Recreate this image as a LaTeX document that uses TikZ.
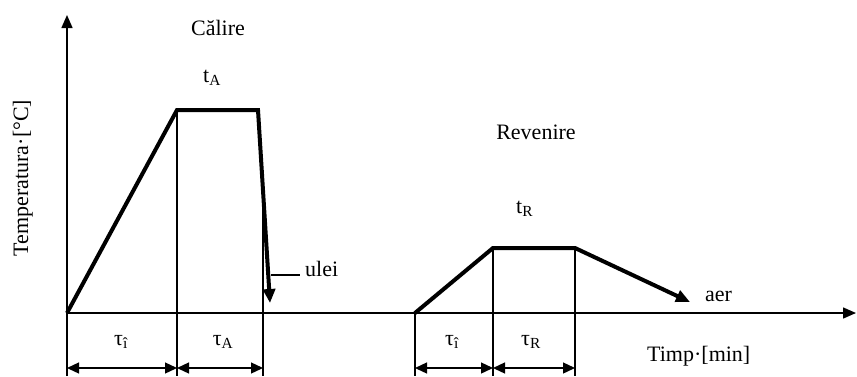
\documentclass[tikz,border=0pt]{standalone}
\usepackage{fontspec}
\setmainfont{Liberation Serif}
\usetikzlibrary{arrows.meta}

\tikzset{
  curba/.style={line width=4pt,line join=miter,-{Triangle[length=14pt,width=12pt]}},
  axa/.style={line width=1.5pt,-{Triangle[length=13pt,width=11pt]}},
  subtire/.style={line width=1.2pt},
  cota/.style={line width=1.3pt,{Triangle[length=12pt,width=11pt]}-{Triangle[length=12pt,width=11pt]}},
  eticheta/.style={inner sep=0pt,font=\fontsize{22}{26}\selectfont},
}

\begin{document}
\begin{tikzpicture}[x=1pt,y=-1pt,line cap=butt]
	\useasboundingbox (0,0) rectangle (857,376);
	% Axe
	\coordinate (O) at (67,313);
	\coordinate (Oj) at (67,376);
	\coordinate (Y) at (67,15);
	\coordinate (X) at (856,313);
	\draw[axa](Oj)--(O)--(Y);
	\draw[axa](O)--(X);
	% Călire
	\coordinate (A1) at (177,110);
	\coordinate (A2) at (258,110);
	\coordinate (A3) at (270,303);
	\coordinate (A4) at (263,190);
	\coordinate (A1j) at (177,376);
	\coordinate (A4j) at (263,376);
	\draw[subtire](A1)--(A1j) (A4)--(A4j);
	\draw[curba](O)--(A1)--(A2)--(A3);
	\coordinate (c0) at (67,368);
	\coordinate (c1) at (177,368);
	\coordinate (c2) at (263,368);
	\draw[cota](c0)--(c1);
	\draw[cota](c1)--(c2);
	% Revenire
	\coordinate (R0) at (415,313);
	\coordinate (R1) at (493,248);
	\coordinate (R2) at (575,248);
	\coordinate (R3) at (690,302);
	\coordinate (R0j) at (415,376);
	\coordinate (R1j) at (493,376);
	\coordinate (R2j) at (575,376);
	\draw[subtire](R0)--(R0j) (R1)--(R1j) (R2)--(R2j);
	\draw[curba](R0)--(R1)--(R2)--(R3);
	\coordinate (d0) at (415,368);
	\coordinate (d1) at (493,368);
	\coordinate (d2) at (575,368);
	\draw[cota](d0)--(d1);
	\draw[cota](d1)--(d2);
	% Etichete
	\node[eticheta,anchor=base] (calire) at (218,35) {Călire};
	\node[eticheta,anchor=base west] (tA) at (203,82) {t\textsubscript{A}};
	\node[eticheta,anchor=base] (revenire) at (536,139) {Revenire};
	\node[eticheta,anchor=base west] (tR) at (516,213) {t\textsubscript{R}};
	\node[eticheta,anchor=base west] (ulei) at (305,276) {ulei};
	\node[eticheta,anchor=base west] (aer) at (705,301) {aer};
	\node[eticheta,anchor=base] (ti1) at (121,345) {τ\textsubscript{î}};
	\node[eticheta,anchor=base] (tauA) at (223,345) {τ\textsubscript{A}};
	\node[eticheta,anchor=base] (ti2) at (452,345) {τ\textsubscript{î}};
	\node[eticheta,anchor=base] (tauR) at (531,345) {τ\textsubscript{R}};
	\node[eticheta,anchor=base west] (timp) at (647,361) {Timp·[min]};
	\node[eticheta,rotate=90,anchor=base] (temp) at (28,178) {Temperatura·[°C]};
	\coordinate (U) at (271,275);
	\draw[subtire,shorten >=5pt](U)--(U -| ulei.west);
\end{tikzpicture}
\end{document}
